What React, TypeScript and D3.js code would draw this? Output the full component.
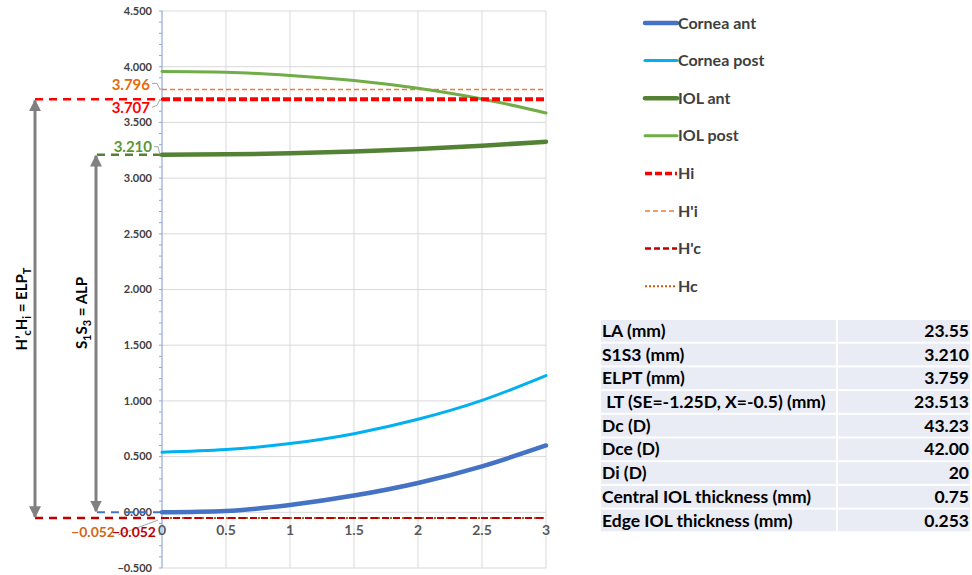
import React from "react";
import * as d3 from "d3";

const xs = [0, 0.5, 1, 1.5, 2, 2.5, 3];
const corneaAnt = [0.0, 0.012, 0.066, 0.15, 0.263, 0.413, 0.6];
const corneaPost = [0.54, 0.563, 0.617, 0.706, 0.835, 1.005, 1.227];
const iolAnt = [3.21, 3.213, 3.222, 3.238, 3.262, 3.29, 3.327];
const iolPost = [3.956, 3.95, 3.922, 3.876, 3.806, 3.71, 3.585];
const hi = 3.707;
const hpi = 3.796;
const hpc = -0.052;
const hc = -0.052;
const s1s3 = 3.21;

const yTicks = d3.range(-0.5, 4.5001, 0.5);
const yMinor = d3.range(-0.5, 4.5001, 0.1);
const xTicks = [0, 0.5, 1, 1.5, 2, 2.5, 3];
const xTickLabels = ["0", "0.5", "1", "1.5", "2", "2.5", "3"];

const legendNames = ["Cornea ant", "Cornea post", "IOL ant", "IOL post", "Hi", "H'i", "H'c", "Hc"];
const tableLabels = [
  "LA (mm)",
  "S1S3 (mm)",
  "ELPT (mm)",
  " LT (SE=-1.25D, X=-0.5) (mm)",
  "Dc (D)",
  "Dce (D)",
  "Di (D)",
  "Central IOL thickness (mm)",
  "Edge IOL thickness (mm)",
];
const tableValues = ["23.55", "3.210", "3.759", "23.513", "43.23", "42.00", "20", "0.75", "0.253"];

const FONT = "Lato, 'Open Sans', sans-serif";

const legendStyles = [
  { color: "#4472C4", w: 4.5, dash: undefined },
  { color: "#00B0F0", w: 3, dash: undefined },
  { color: "#548235", w: 4.5, dash: undefined },
  { color: "#70AD47", w: 3, dash: undefined },
  { color: "#FF0000", w: 3.5, dash: "7,3" },
  { color: "#ED7D31", w: 1.5, dash: "5,3" },
  { color: "#C00000", w: 2.5, dash: "6,3" },
  { color: "#C55A11", w: 2, dash: "2,2" },
];

export default function App() {
  const x = d3.scaleLinear().domain([0, 3]).range([162, 546]);
  const y = d3.scaleLinear().domain([-0.5, 4.5]).range([568, 11]);
  const line = d3
    .line<number>()
    .x((_, i) => x(xs[i]))
    .y((d) => y(d))
    .curve(d3.curveMonotoneX);

  const series = [
    { data: corneaAnt, ...legendStyles[0] },
    { data: corneaPost, ...legendStyles[1] },
    { data: iolAnt, ...legendStyles[2] },
    { data: iolPost, ...legendStyles[3] },
  ];

  const x0 = x(0);
  const x3 = x(3);
  const arrowColor = "#808080";
  const legX = 645;
  const legY0 = 23;
  const legStep = 37.6;
  const tblTop = 319;
  const rowH = 23.7;

  return (
    <svg
      width={972}
      height={575}
      style={{ position: "absolute", left: 0, top: 0, background: "#fff" }}
      fontFamily={FONT}
    >
      <defs>
        <marker id="ah" viewBox="0 0 10 10" refX="9" refY="5" markerWidth="4" markerHeight="4.2" orient="auto-start-reverse">
          <path d="M0,0 L10,5 L0,10 z" fill={arrowColor} />
        </marker>
      </defs>
      {/* gridlines */}
      {yTicks.map((t) => (
        <line key={"gy" + t} x1={x0} x2={x3} y1={y(t)} y2={y(t)} stroke="#D9D9D9" strokeWidth={1} />
      ))}
      {xTicks.slice(1).map((t) => (
        <line key={"gx" + t} x1={x(t)} x2={x(t)} y1={y(4.5)} y2={y(-0.5)} stroke="#D9D9D9" strokeWidth={1} />
      ))}
      {/* y axis */}
      <line x1={x0} x2={x0} y1={y(4.5)} y2={y(-0.5)} stroke="#8FAADC" strokeWidth={1.2} />
      {yMinor.map((t, i) => (
        <line key={"ym" + i} x1={x0 - 3} x2={x0} y1={y(t)} y2={y(t)} stroke="#8FAADC" strokeWidth={1} />
      ))}
      {yTicks.map((t) => (
        <text
          key={"yl" + t}
          x={152}
          y={y(t)}
          dy="0.35em"
          textAnchor="end"
          fontSize={11}
          fontWeight="bold"
          fill="#404040"
        >
          {d3.format(".3f")(t)}
        </text>
      ))}
      {xTicks.map((t, i) => (
        <text
          key={"xl" + t}
          x={x(t)}
          y={y(0) + 18}
          dy="0.35em"
          textAnchor="middle"
          fontSize={14}
          fontWeight="bold"
          fill="#595959"
        >
          {xTickLabels[i]}
        </text>
      ))}

      {/* annotation extension lines */}
      <line x1={35} x2={x0} y1={y(hi)} y2={y(hi)} stroke="#FF0000" strokeWidth={2.5} strokeDasharray="8,6" />
      <line x1={35} x2={x0} y1={y(hpc)} y2={y(hpc)} stroke="#C00000" strokeWidth={2.5} strokeDasharray="8,6" />
      <line x1={97} x2={x0} y1={y(s1s3)} y2={y(s1s3)} stroke="#548235" strokeWidth={2.5} strokeDasharray="8,6" />
      <line x1={97} x2={x0} y1={y(0)} y2={y(0)} stroke="#4472C4" strokeWidth={2} strokeDasharray="8,6" />

      {/* horizontal reference series */}
      <line x1={x0} x2={x3} y1={y(hpi)} y2={y(hpi)} stroke="#ED7D31" strokeWidth={1.5} strokeDasharray="5,3" />
      <line x1={x0} x2={x3} y1={y(hc)} y2={y(hc)} stroke="#C55A11" strokeWidth={2} strokeDasharray="2,2" />
      <line x1={x0} x2={x3} y1={y(hpc)} y2={y(hpc)} stroke="#C00000" strokeWidth={2} strokeDasharray="7,4" />

      {/* curves */}
      {series.map((s, i) => (
        <path key={"s" + i} d={line(s.data) || ""} fill="none" stroke={s.color} strokeWidth={s.w} strokeLinecap="round" />
      ))}
      <line x1={x0} x2={x3} y1={y(hi)} y2={y(hi)} stroke="#FF0000" strokeWidth={4} strokeDasharray="8,3" />

      {/* arrows */}
      <line x1={35} x2={35} y1={y(hi) + 1} y2={y(hpc) - 1} stroke={arrowColor} strokeWidth={3} markerStart="url(#ah)" markerEnd="url(#ah)" />
      <line x1={96} x2={96} y1={y(s1s3) + 1} y2={y(0) - 1} stroke={arrowColor} strokeWidth={3} markerStart="url(#ah)" markerEnd="url(#ah)" />

      {/* data labels */}
      <polyline points={`152,${y(hpi) - 6} 157,${y(hpi) - 6} 160,${y(hpi)}`} fill="none" stroke="#A6A6A6" strokeWidth={1} />
      <polyline points={`152,${y(hi) + 8} 157,${y(hi) + 6} 160,${y(hi)}`} fill="none" stroke="#A6A6A6" strokeWidth={1} />
      <polyline points={`154,${y(s1s3) - 8} 158,${y(s1s3) - 8} 160,${y(s1s3)}`} fill="none" stroke="#A6A6A6" strokeWidth={1} />
      <line x1={118} y1={535} x2={158} y2={y(hc) + 2} stroke="#A6A6A6" strokeWidth={1} />
      <text x={150} y={y(hpi) - 5} dy="0.35em" textAnchor="end" fontSize={15} fontWeight="bold" fill="#E46C0A">
        {d3.format(".3f")(hpi)}
      </text>
      <text x={150} y={y(hi) + 8} dy="0.35em" textAnchor="end" fontSize={15} fontWeight="bold" fill="#FF0000">
        {d3.format(".3f")(hi)}
      </text>
      <text x={152} y={y(s1s3) - 8} dy="0.35em" textAnchor="end" fontSize={15} fontWeight="bold" fill="#5B9636">
        {d3.format(".3f")(s1s3)}
      </text>
      <text x={115} y={532} dy="0.35em" textAnchor="end" fontSize={14} fontWeight="bold" fill="#D0661A">
        {d3.format(".3f")(hc)}
      </text>
      <text x={156} y={532} dy="0.35em" textAnchor="end" fontSize={14} fontWeight="bold" fill="#C00000">
        {d3.format(".3f")(hpc)}
      </text>

      {/* rotated labels */}
      <text transform="translate(27,309) rotate(-90)" textAnchor="middle" fontSize={15} fontWeight="bold" fill="#000">
        <tspan>H’</tspan>
        <tspan fontSize={11} dy={4}>c</tspan>
        <tspan dy={-4}>H</tspan>
        <tspan fontSize={11} dy={4}>i</tspan>
        <tspan dy={-4}> = ELP</tspan>
        <tspan fontSize={11} dy={4}>T</tspan>
      </text>
      <text transform="translate(87,313) rotate(-90)" textAnchor="middle" fontSize={15} fontWeight="bold" fill="#000">
        <tspan>S</tspan>
        <tspan fontSize={11} dy={4}>1</tspan>
        <tspan dy={-4}>S</tspan>
        <tspan fontSize={11} dy={4}>3</tspan>
        <tspan dy={-4}> = ALP</tspan>
      </text>

      {/* legend */}
      {legendNames.map((n, i) => {
        const st = legendStyles[i];
        const yy = legY0 + i * legStep;
        return (
          <g key={"lg" + n}>
            <line x1={legX} x2={legX + 32} y1={yy} y2={yy} stroke={st.color} strokeWidth={st.w} strokeDasharray={st.dash} strokeLinecap={st.dash ? "butt" : "round"} />
            <text x={legX + 33} y={yy} dy="0.35em" fontSize={16} fontWeight="bold" fill="#404040">
              {n}
            </text>
          </g>
        );
      })}

      {/* table */}
      {tableLabels.map((lab, i) => {
        const ty = tblTop + i * rowH;
        return (
          <g key={"tr" + i}>
            <rect x={601} y={ty + 1} width={235} height={rowH - 2} fill="#E9EBF5" />
            <rect x={838} y={ty + 1} width={132} height={rowH - 2} fill="#E9EBF5" />
            <text x={602} y={ty + rowH / 2} dy="0.35em" fontSize={17.5} fontWeight="bold" fill="#000" style={{ whiteSpace: "pre" }}>
              {lab}
            </text>
            <text x={969} y={ty + rowH / 2} dy="0.35em" textAnchor="end" fontSize={17.5} fontWeight="bold" fill="#000">
              {tableValues[i]}
            </text>
          </g>
        );
      })}
    </svg>
  );
}
